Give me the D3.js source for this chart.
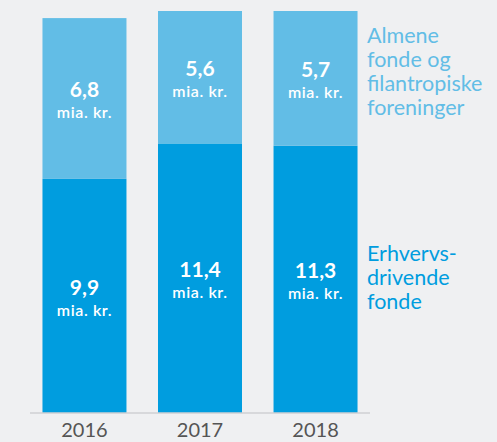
<!DOCTYPE html>
<html><head><meta charset="utf-8">
<script src="https://cdn.jsdelivr.net/npm/d3@7"></script>
<style>
html,body{margin:0;padding:0;background:#eff0f2;}
svg{display:block;}
text{font-family:Lato,"Open Sans",sans-serif;}
</style></head>
<body>
<script>
const years = ["2016","2017","2018"];
const erhvervs = [9.9, 11.4, 11.3];
const almene = [6.8, 5.6, 5.7];
const seriesNames = [["Erhvervs-","drivende","fonde"],["Almene","fonde og","filantropiske","foreninger"]];
const colors = ["#009ddf", "#62bde6"];

const W = 497, H = 442;
const svg = d3.select("body").append("svg").attr("width", W).attr("height", H);

const x = d3.scaleBand().domain(years).range([30, 370]).paddingInner(0.273).paddingOuter(0.108);
const y = d3.scaleLinear().domain([0, 17.0]).range([413, 11]);

const fmt = v => d3.format(".1f")(v).replace(".", ",");

years.forEach((yr, i) => {
  const segs = [
    {y0: 0, y1: erhvervs[i], v: erhvervs[i], c: colors[0]},
    {y0: erhvervs[i], y1: erhvervs[i] + almene[i], v: almene[i], c: colors[1]}
  ];
  segs.forEach(s => {
    svg.append("rect")
      .attr("x", x(yr)).attr("width", x.bandwidth())
      .attr("y", y(s.y1)).attr("height", y(s.y0) - y(s.y1))
      .attr("fill", s.c);
    const cy = (y(s.y0) + y(s.y1)) / 2;
    const cx = x(yr) + x.bandwidth() / 2;
    svg.append("text").attr("x", cx).attr("y", cy - 1)
      .attr("text-anchor", "middle").attr("fill", "#fff")
      .attr("font-size", 21).attr("font-weight", 700).text(fmt(s.v));
    svg.append("text").attr("x", cx).attr("y", cy + 20)
      .attr("text-anchor", "middle").attr("fill", "#fff")
      .attr("font-size", 16).attr("font-weight", 600)
      .attr("letter-spacing", 0.6).text("mia. kr.");
  });
});

// baseline
svg.append("line").attr("x1", 30).attr("x2", 370).attr("y1", y(0)).attr("y2", y(0))
  .attr("stroke", "#cfd0d3").attr("stroke-width", 1.5);

// x axis
const xAxis = svg.append("g").attr("transform", `translate(0,${y(0)})`)
  .call(d3.axisBottom(x).tickSize(0).tickPadding(10));
xAxis.select(".domain").remove();
xAxis.selectAll("text").attr("font-size", 20).attr("fill", "#555")
  .attr("font-family", "Lato, 'Open Sans', sans-serif");

// series labels
const lab = [
  {lines: seriesNames[1], y0: 43, c: colors[1]},
  {lines: seriesNames[0], y0: 261, c: colors[0]}
];
lab.forEach(l => {
  l.lines.forEach((t, k) => {
    svg.append("text").attr("x", 367).attr("y", l.y0 + k * 24)
      .attr("fill", l.c).attr("font-size", 21.5).text(t);
  });
});
</script>
</body></html>
